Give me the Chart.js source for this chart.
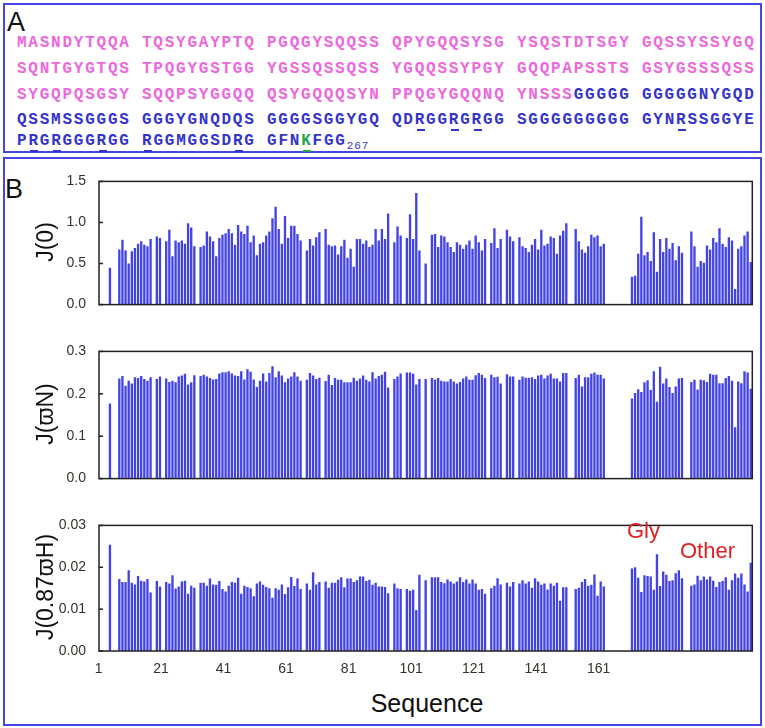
<!DOCTYPE html>
<html><head><meta charset="utf-8">
<script src="https://cdn.jsdelivr.net/npm/chart.js@4.4.1/dist/chart.umd.min.js"></script>
<style>
html,body{margin:0;padding:0;background:#fff;}
#root{position:relative;width:765px;height:728px;overflow:hidden;font-family:"Liberation Sans",Arial,sans-serif;}
.box{position:absolute;border:2px solid #4646e6;box-sizing:border-box;}
.seq{position:absolute;left:17px;font-family:"Liberation Mono",monospace;font-weight:bold;font-size:16px;letter-spacing:1.76px;white-space:pre;line-height:16px;}
.p{color:#ec68dc}.b{color:#3434cc}.g{color:#22a844}
.u{position:relative;}
.u::after{content:"";position:absolute;left:2px;width:8px;bottom:-2px;height:2px;background:currentColor;}
sub{font-size:11px;vertical-align:-4px;letter-spacing:1px;font-weight:normal;}
canvas{position:absolute;left:0;}
.t{position:absolute;white-space:nowrap;line-height:1;}
.yt{position:absolute;white-space:nowrap;font-size:23px;line-height:23px;color:#111;transform:translate(-50%,-50%) rotate(-90deg);}
</style></head>
<body><div id="root">
<div class="box" style="left:3px;top:3px;width:759px;height:150px;"></div>
<div class="box" style="left:3px;top:157px;width:759px;height:569px;"></div>
<div class="t" style="left:7px;top:9px;font-size:27px;color:#111;">A</div>
<div class="t" style="left:5px;top:176px;font-size:27px;color:#111;">B</div>

<div class="seq p" style="top:35px;">MASNDYTQQA TQSYGAYPTQ PGQGYSQQSS QPYGQQSYSG YSQSTDTSGY GQSSYSSYGQ</div>
<div class="seq p" style="top:61px;">SQNTGYGTQS TPQGYGSTGG YGSSQSSQSS YGQQSSYPGY GQQPAPSSTS GSYGSSSQSS</div>
<div class="seq" style="top:87px;"><span class="p">SYGQPQSGSY SQQPSYGGQQ QSYGQQQSYN PPQGYGQQNQ YNSSS</span><span class="b">GGGGG GGGGGNYGQD</span></div>
<div class="seq b" style="top:112px;">QSSMSSGGGS GGGYGNQDQS GGGGSGGYGQ QD<span class="u">R</span>GG<span class="u">R</span>G<span class="u">R</span>GG SGGGGGGGGG GYN<span class="u">R</span>SSGGYE</div>
<div class="seq b" style="top:133px;">P<span class="u">R</span>G<span class="u">R</span>GGG<span class="u">R</span>GG <span class="u">R</span>GGMGGSD<span class="u">R</span>G GFN<span class="u g">K</span>FGG<sub>267</sub></div>

<canvas id="c1" width="765" height="166" style="top:160px;"></canvas>
<canvas id="c2" width="765" height="170" style="top:330px;"></canvas>
<canvas id="c3" width="765" height="182" style="top:504px;"></canvas>

<div class="yt" style="left:45px;top:242px;">J(0)</div>
<div class="yt" style="left:45px;top:414px;">J(ϖN)</div>
<div class="yt" style="left:45px;top:587px;">J(0.87ϖH)</div>
<div class="t" style="left:427px;top:691px;font-size:25px;color:#111;transform:translateX(-50%);">Sequence</div>
<div class="t" style="left:627px;top:520px;font-size:22px;color:#e02020;">Gly</div>
<div class="t" style="left:680px;top:540px;font-size:22px;color:#e02020;">Other</div>
</div>
<script>
// Category positions (1..209) along the x axis; shown tick labels
const residues = Array.from({length:209}, (_, i) => String(i + 1));
const tickLabels = ['1','21','41','61','81','101','121','141','161'];

// J(0)
const j0 = [
 null,null,null,0.45,null,null,
 0.67,0.79,0.66,0.50,0.65,0.69,0.74,0.77,0.73,0.71,0.80, null,
 0.83,0.81, null,
 0.77,0.91,0.59,0.78,0.76,0.78,0.74,0.99,0.94,0.71, null,
 0.70,0.72,0.89,0.83,0.77,0.59,0.81,0.85,0.87,0.92,0.87,0.73,0.97,0.89,0.86,0.96,0.76,
 0.84,0.60,0.74,0.76,0.84,0.89,1.05,1.19,0.92,0.74,1.08,0.81,0.96,0.96,0.86,0.78, null,
 0.66,0.80,0.72,0.82,0.88, null,
 0.92,0.73,0.71,0.72,0.61,0.71,0.79,0.57,0.68,0.46,0.80,0.80,0.74,0.78,0.70,0.73,0.92,0.78,0.92,0.80,1.11, null,
 0.76,0.95,0.84, null,
 0.81,1.10,0.80,1.36,0.66, null,
 0.50, null,
 0.85,0.86,0.70,0.84,0.83,0.76,0.70,0.64,0.76,0.73,0.68,0.73,0.78,0.68,0.84,0.76,0.66,0.80, null,
 0.75,0.93,0.69,0.80, null,
 0.91,0.83,0.77, null,
 0.82,0.71,0.69,0.64,0.73,0.80,0.67,0.91,0.72,0.74,0.83,0.81,0.62,0.84,0.90,0.99, null,null,
 0.92,0.77,0.67,0.63,0.71,0.85,0.82,0.84,0.71,0.74,
 null,null,null,null,null,null,null,null,
 0.34,0.35,0.62,1.07,0.60,0.64,0.53,0.88,0.40,0.80,0.64,0.81,0.68,0.75,0.54,0.71,0.63, null,null,
 0.89,0.71,0.46,0.53,0.51,0.72,0.67,0.81,0.76,0.93,0.74,0.70,0.82,0.78,0.19,0.68,0.71,0.84,0.89,0.52
];

// J(ϖN)
const jN = [
 null,null,null,0.177,null,null,
 0.236,0.242,0.219,0.231,0.224,0.239,0.237,0.242,0.235,0.231,0.239, null,
 0.235,0.241, null,
 0.236,0.228,0.231,0.227,0.241,0.243,0.247,0.222,0.227,0.244, null,
 0.242,0.245,0.241,0.237,0.234,0.235,0.248,0.251,0.251,0.253,0.248,0.243,0.242,0.253,0.234,0.258,0.252,
 0.234,0.216,0.231,0.248,0.229,0.249,0.265,0.239,0.253,0.243,0.227,0.236,0.241,0.251,0.241,0.231, null,
 0.233,0.249,0.243,0.235,0.238, null,
 0.230,0.245,0.221,0.237,0.233,0.233,0.227,0.227,0.227,0.238,0.231,0.236,0.243,0.233,0.229,0.251,0.236,0.242,0.245,0.252,0.215, null,
 0.235,0.241,0.248, null,
 0.250,0.250,0.247,0.222,0.235, null,
 0.235, null,
 0.237,0.234,0.237,0.231,0.229,0.229,0.235,0.229,0.224,0.228,0.236,0.241,0.233,0.233,0.244,0.249,0.245,0.237, null,
 0.245,0.239,0.240,0.224, null,
 0.246,0.241,0.241, null,
 0.233,0.241,0.238,0.238,0.239,0.235,0.243,0.245,0.236,0.243,0.247,0.236,0.236,0.229,0.249,0.249, null,null,
 0.237,0.245,0.217,0.239,0.239,0.247,0.250,0.245,0.245,0.236,
 null,null,null,null,null,null,null,null,
 0.189,0.202,0.211,0.204,0.227,0.232,0.209,0.253,0.181,0.264,0.224,0.236,0.216,0.202,0.217,0.236,0.237, null,null,
 0.228,0.233,0.210,0.233,0.232,0.228,0.247,0.245,0.245,0.225,0.225,0.237,0.242,0.231,0.121,0.229,0.225,0.253,0.250,0.212
];

// J(0.87ϖH)
const jH = [
 null,null,null,0.0254,null,null,
 0.0172,0.0165,0.0165,0.0193,0.0163,0.0159,0.0179,0.0168,0.0166,0.0172,0.0140, null,
 0.0167,0.0154, null,
 0.0165,0.0161,0.0181,0.0149,0.0154,0.0166,0.0168,0.0137,0.0156,0.0151, null,
 0.0163,0.0163,0.0156,0.0173,0.0159,0.0158,0.0167,0.0148,0.0142,0.0156,0.0165,0.0163,0.0175,0.0137,0.0156,0.0153,0.0150,
 0.0131,0.0161,0.0166,0.0158,0.0153,0.0150,0.0127,0.0150,0.0146,0.0159,0.0136,0.0152,0.0177,0.0155,0.0173,0.0148, null,
 0.0161,0.0146,0.0188,0.0159,0.0165, null,
 0.0166,0.0151,0.0163,0.0163,0.0170,0.0176,0.0152,0.0173,0.0173,0.0165,0.0169,0.0178,0.0178,0.0167,0.0170,0.0158,0.0163,0.0154,0.0154,0.0153,0.0138, null,
 0.0161,0.0150,0.0148, null,
 0.0148,0.0144,0.0146,0.0098,0.0182, null,
 0.0169, null,
 0.0176,0.0176,0.0176,0.0165,0.0162,0.0171,0.0166,0.0161,0.0166,0.0176,0.0165,0.0171,0.0161,0.0171,0.0161,0.0146,0.0148,0.0137, null,
 0.0150,0.0156,0.0174,0.0159, null,
 0.0163,0.0154,0.0165, null,
 0.0161,0.0169,0.0161,0.0166,0.0151,0.0174,0.0166,0.0158,0.0161,0.0147,0.0161,0.0156,0.0163,0.0120,0.0152,0.0152, null,null,
 0.0148,0.0151,0.0165,0.0172,0.0156,0.0158,0.0183,0.0132,0.0166,0.0154,
 null,null,null,null,null,null,null,null,
 0.0197,0.0200,0.0175,0.0141,0.0181,0.0179,0.0178,0.0146,0.0231,0.0155,0.0190,0.0182,0.0167,0.0169,0.0186,0.0193,0.0174, null,null,
 0.0156,0.0159,0.0180,0.0169,0.0178,0.0171,0.0178,0.0168,0.0153,0.0165,0.0167,0.0176,0.0146,0.0169,0.0185,0.0175,0.0185,0.0159,0.0142,0.0211
];

const frame = {
  id: 'frame',
  afterDraw(chart) {
    const {ctx, chartArea: a, scales: {y}} = chart;
    ctx.save();
    ctx.strokeStyle = '#222';
    ctx.lineWidth = 1.5;
    y.ticks.forEach(t => {
      const py = y.getPixelForValue(t.value);
      ctx.beginPath(); ctx.moveTo(a.left, py); ctx.lineTo(a.left + 4, py); ctx.stroke();
    });
    ctx.strokeRect(a.left, a.top, a.right - a.left, a.bottom - a.top);
    ctx.restore();
  }
};

const tickFont = {family: '"Liberation Sans", Arial, sans-serif', size: 14};
const tickColor = '#34342a';

function makeChart(id, values, max, step, dec, showX, xHeight) {
  new Chart(document.getElementById(id), {
    type: 'bar',
    data: {labels: residues, datasets: [{data: values, backgroundColor: '#4343e4', barPercentage: 0.75, categoryPercentage: 1}]},
    options: {
      responsive: false, animation: false, devicePixelRatio: 1,
      layout: {padding: {top: 10, right: 12.7, left: 0, bottom: 0}},
      plugins: {legend: {display: false}, tooltip: {enabled: false}},
      scales: {
        x: {
          grid: {display: false, drawTicks: false}, border: {display: false},
          ticks: {display: showX, autoSkip: false, maxRotation: 0, minRotation: 0, padding: 10, labelOffset: -2,
            font: tickFont, color: tickColor,
            callback: (v, i) => tickLabels.includes(residues[i]) ? residues[i] : null},
          afterFit: s => { s.height = xHeight; }
        },
        y: {
          min: 0, max: max,
          grid: {display: false, drawTicks: false}, border: {display: false},
          ticks: {stepSize: step, padding: 13, font: tickFont, color: tickColor,
            callback: v => Number(v).toFixed(dec)},
          afterFit: s => { s.width = 99; }
        }
      }
    },
    plugins: [frame]
  });
}

makeChart('c1', j0, 1.5, 0.5, 1, false, 12);
makeChart('c2', jN, 0.3, 0.1, 1, false, 12);
makeChart('c3', jH, 0.03, 0.01, 2, true, 35);
</script>
</body></html>
